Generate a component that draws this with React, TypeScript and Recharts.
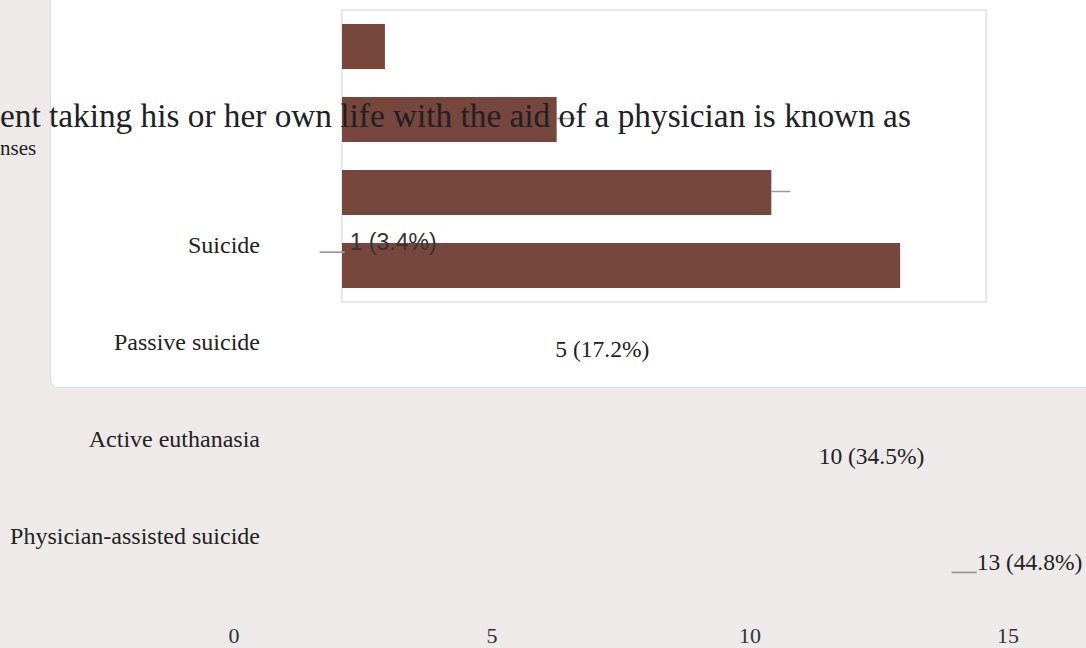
import React from 'react';
import { BarChart, Bar, XAxis, YAxis, CartesianGrid, ReferenceArea, LabelList } from 'recharts';

const categories = ['Suicide', 'Passive suicide', 'Active euthanasia', 'Physician-assisted suicide'];
const counts = [1, 5, 10, 13];
const percents = ['3.4%', '17.2%', '34.5%', '44.8%'];
const xTicks = [0, 5, 10, 15];
const gridTicks = [0, 2.5, 5, 7.5, 10, 12.5, 15];
const titleText = 'ent taking his or her own life with the aid of a physician is known as';
const subtitleText = 'nses';

const data = categories.map((name, i) => ({ name, count: counts[i], label: `${counts[i]} (${percents[i]})` }));

const SERIF = '"Liberation Serif", "Times New Roman", serif';
const SANS = '"Liberation Sans", Arial, sans-serif';
const BAR = '#77463c';
const TEXT = '#222222';

const W = 1086;
const H = 648;

const CardLeader = (props: any) => {
  const { x, y, width, height, value } = props;
  const idx = props.index ?? counts.indexOf(value);
  if (idx !== 1 && idx !== 2) return null;
  const ex = Number(x) + Number(width);
  const cy = Number(y) + Number(height) / 2 - 1;
  return <line x1={ex} x2={ex + 19} y1={cy} y2={cy} stroke="#9a9a9a" strokeWidth={1.5} />;
};

const ValueLabel = (props: any) => {
  const { x, y, width, height, value } = props;
  const idx = props.index ?? data.findIndex((d) => d.label === value);
  const lx = Number(x) + Number(width);
  const cy = Number(y) + Number(height) / 2;
  const sans = idx === 0;
  return (
    <g>
      {(idx === 0 || idx === 3) && (
        <line x1={lx - 25} x2={lx} y1={cy + 10} y2={cy + 10} stroke="#9a9a9a" strokeWidth={1.8} />
      )}
      <text
        x={sans ? lx + 5 : lx}
        y={cy}
        dominantBaseline="central"
        fontSize={sans ? 23 : 23.5}
        style={{ fontFamily: sans ? SANS : SERIF }}
        fill={sans ? '#333' : TEXT}
      >
        {value}
      </text>
    </g>
  );
};

const CategoryTick = (props: any) => {
  const { x, y, payload } = props;
  return (
    <text
      x={Number(x) + 26}
      y={Number(y)}
      textAnchor="end"
      dominantBaseline="central"
      fontSize={24}
      style={{ fontFamily: SERIF, fontSize: 24 }}
      fill={TEXT}
    >
      {payload?.value}
    </text>
  );
};

export default function App() {
  const layer: React.CSSProperties = { position: 'absolute', left: 0, top: 0 };
  return (
    <div style={{ position: 'fixed', left: 0, top: 0, width: W, height: H, background: '#eeeae9', overflow: 'hidden' }}>
      <style>{'body{margin:0;overflow:hidden}'}</style>
      <div
        style={{
          position: 'absolute',
          left: 50,
          top: -30,
          width: 1100,
          height: 418,
          boxSizing: 'border-box',
          background: '#ffffff',
          border: '1px solid #dcdcdf',
          borderRadius: 8,
        }}
      />
      {/* card chart with bars */}
      <div style={layer}>
        <BarChart
          width={W}
          height={H}
          data={data}
          layout="vertical"
          margin={{ top: 10, bottom: 346, left: 342, right: 100 }}
        >
          <CartesianGrid horizontal={false} stroke="#efefef" strokeWidth={1.5} />
          <XAxis
            type="number"
            domain={[0, 15]}
            ticks={gridTicks}
            tick={false}
            axisLine={false}
            tickLine={false}
            height={0}
          />
          <YAxis
            type="category"
            dataKey="name"
            width={0}
            tick={false}
            tickLine={false}
            axisLine={{ stroke: '#333', strokeWidth: 2 }}
          />
          <ReferenceArea x1={0} x2={15} fill="none" stroke="#e8e8e8" strokeWidth={2} />
          <Bar dataKey="count" fill={BAR} barSize={45} isAnimationActive={false}>
            <LabelList dataKey="count" content={CardLeader} />
          </Bar>
        </BarChart>
      </div>
      {/* title text */}
      <svg width={W} height={H} style={layer}>
        <text x={0} y={127} fontSize={33.3} style={{ fontFamily: SERIF }} fill="#202124">
          {titleText}
        </text>
        <text x={0} y={155} fontSize={21} style={{ fontFamily: SERIF }} fill="#202124">
          {subtitleText}
        </text>
      </svg>
      {/* overflowed category labels and ticks */}
      <div style={layer}>
        <BarChart
          width={W}
          height={H}
          data={data}
          layout="vertical"
          margin={{ top: 196, bottom: 4, left: 204, right: 78 }}
        >
          <XAxis
            type="number"
            domain={[0, 15]}
            ticks={xTicks}
            axisLine={false}
            tickLine={false}
            tickSize={0}
            tickMargin={43}
            height={60}
            tick={{ fontSize: 22, fill: '#333', fontFamily: SERIF }}
          />
          <YAxis
            type="category"
            dataKey="name"
            width={30}
            axisLine={false}
            tickLine={false}
            tickSize={0}
            tickMargin={0}
            interval={0}
            tick={CategoryTick}
          />
          <Bar dataKey="count" fill="transparent" isAnimationActive={false} />
        </BarChart>
      </div>
      {/* overflowed value labels */}
      <div style={layer}>
        <BarChart
          width={W}
          height={H}
          data={data}
          layout="vertical"
          margin={{ top: 189, bottom: 32, left: 292, right: 4 }}
        >
          <XAxis type="number" domain={[0, 15]} hide />
          <YAxis type="category" dataKey="name" hide width={0} />
          <Bar dataKey="count" fill="transparent" isAnimationActive={false}>
            <LabelList dataKey="label" content={ValueLabel} />
          </Bar>
        </BarChart>
      </div>
    </div>
  );
}
